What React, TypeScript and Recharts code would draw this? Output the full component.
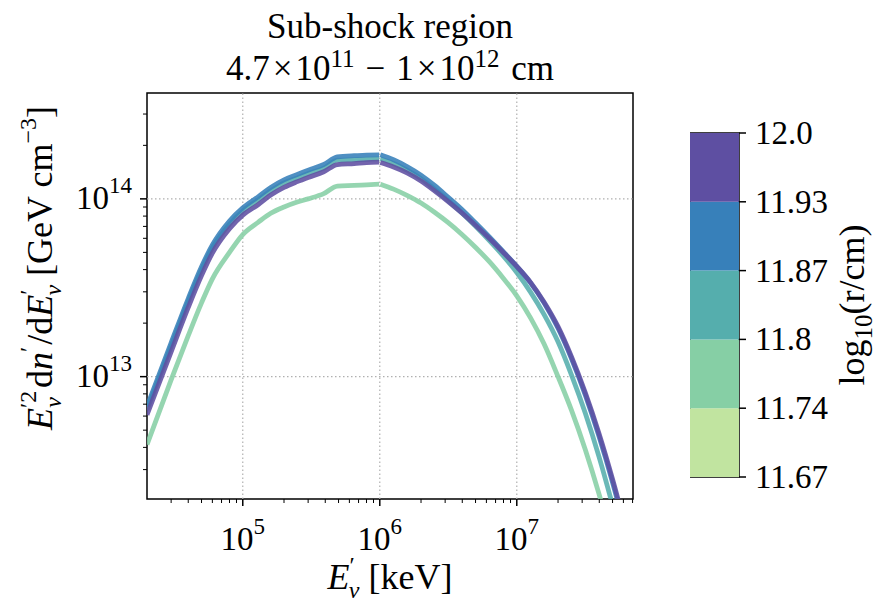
import React from 'react';
import {
  LineChart,
  Line,
  XAxis,
  YAxis,
  ReferenceLine,
  ReferenceArea,
  BarChart,
  Bar,
} from 'recharts';

// E'_nu in keV
const ENERGY = [
  2e4, 3e4, 4e4, 5e4, 6e4, 8e4, 1e5, 1.3e5, 1.6e5, 2e5, 2.5e5, 3e5, 3.9e5, 4.9e5, 6.5e5, 8e5, 9.9e5,
  1e6, 1.01e6, 1.26e6, 1.58e6, 2e6, 2.51e6, 3.16e6, 3.98e6, 5.01e6, 6.31e6, 7.94e6, 1e7,
  1.26e7, 1.58e7, 2e7, 2.51e7, 3.16e7, 3.98e7, 5.01e7, 6.31e7, 7.08e7,
];

// E'^2 dn'/dE' per radius bin (null = break at 1e6 keV)
const R_11_77 = [
  4.15e12, 9.6e12, 1.7e13, 2.6e13, 3.55e13, 5.0e13, 6.3e13, 7.4e13, 8.3e13, 9.0e13, 9.6e13, 1.0e14, 1.07e14, 1.18e14, 1.19e14, 1.2e14, 1.21e14,
  null, 1.21e14, 1.135e14, 1.047e14, 9.48e13, 8.41e13, 7.35e13, 6.31e13, 5.33e13, 4.43e13, 3.59e13, 2.85e13,
  2.14e13, 1.53e13, 1.0e13, 6.46e12, 3.89e12, 2.19e12, 1.15e12, 5.6e11, 3.9e11,
];
const R_11_84 = [
  6.5e12, 1.48e13, 2.64e13, 3.98e13, 5.3e13, 7.2e13, 8.55e13, 9.9e13, 1.11e14, 1.23e14, 1.31e14, 1.39e14, 1.49e14, 1.65e14, 1.66e14, 1.67e14, 1.68e14,
  null, 1.68e14, 1.58e14, 1.45e14, 1.3e14, 1.135e14, 9.77e13, 8.32e13, 7.0e13, 5.82e13, 4.79e13, 3.85e13,
  2.99e13, 2.24e13, 1.57e13, 1.02e13, 6.24e12, 3.55e12, 1.88e12, 9.5e11, 6.8e11,
];
const R_11_90 = [
  6.8e12, 1.55e13, 2.75e13, 4.15e13, 5.5e13, 7.5e13, 8.9e13, 1.03e14, 1.16e14, 1.28e14, 1.37e14, 1.45e14, 1.56e14, 1.72e14, 1.75e14, 1.76e14, 1.77e14,
  null, 1.77e14, 1.66e14, 1.52e14, 1.36e14, 1.19e14, 1.02e14, 8.71e13, 7.31e13, 6.1e13, 5.06e13, 4.17e13,
  3.37e13, 2.6e13, 1.87e13, 1.26e13, 7.9e12, 4.62e12, 2.53e12, 1.29e12, 9.1e11,
];
const R_11_97 = [
  6.1e12, 1.38e13, 2.45e13, 3.7e13, 4.95e13, 6.8e13, 8.1e13, 9.3e13, 1.05e14, 1.16e14, 1.25e14, 1.32e14, 1.42e14, 1.56e14, 1.58e14, 1.6e14, 1.61e14,
  null, 1.6e14, 1.51e14, 1.4e14, 1.26e14, 1.11e14, 9.66e13, 8.32e13, 7.08e13, 5.98e13, 5.01e13, 4.17e13,
  3.39e13, 2.63e13, 1.91e13, 1.29e13, 8.13e12, 4.79e12, 2.63e12, 1.35e12, 9.5e11,
];

const X_MAJOR = [1e5, 1e6, 1e7];
const X_TICKS = [
  3e4, 4e4, 5e4, 6e4, 7e4, 8e4, 9e4, 1e5, 2e5, 3e5, 4e5, 5e5, 6e5, 7e5, 8e5, 9e5, 1e6,
  2e6, 3e6, 4e6, 5e6, 6e6, 7e6, 8e6, 9e6, 1e7, 2e7, 3e7, 4e7, 5e7, 6e7, 7e7,
];
const Y_MAJOR = [1e13, 1e14];
const Y_TICKS = [
  3e12, 4e12, 5e12, 6e12, 7e12, 8e12, 9e12, 1e13, 2e13, 3e13, 4e13, 5e13, 6e13, 7e13, 8e13, 9e13, 1e14, 2e14, 3e14,
];

// colour bar bins, bottom to top
const CB_EDGES = ['11.67', '11.74', '11.8', '11.87', '11.93', '12.0'];
const CB_COLORS = ['#c1e4a0', '#86cfa5', '#55aead', '#3780ba', '#5e4fa2'];

const SERIES = [
  { key: 'r1', values: R_11_77, color: '#86cfa5' },
  { key: 'r2', values: R_11_84, color: '#55aead' },
  { key: 'r3', values: R_11_90, color: '#3780ba' },
  { key: 'r4', values: R_11_97, color: '#5e4fa2' },
];

const FONT = '"Liberation Serif", "Times New Roman", serif';
const W = 884;
const H = 606;
const PLOT = { left: 147, right: 633, top: 93, bottom: 499 };

const isMajor = (v: number) => Math.abs(Math.log10(v) - Math.round(Math.log10(v))) < 1e-6;

function XTick({ x, y, payload }: any) {
  const v = payload.value;
  const major = isMajor(v);
  return (
    <g>
      <line x1={x} x2={x} y1={y} y2={y + (major ? 7 : 4)} stroke="#000" strokeWidth={major ? 1.5 : 1} />
      {major && (
        <text x={x} y={y + 51} textAnchor="middle" fontFamily={FONT} fontSize={33} fill="#000">
          10<tspan dy={-16} fontSize={23}>{Math.round(Math.log10(v))}</tspan>
        </text>
      )}
    </g>
  );
}

function YTick({ x, y, payload }: any) {
  const v = payload.value;
  const major = isMajor(v);
  return (
    <g>
      <line x1={x - (major ? 7 : 4)} x2={x} y1={y} y2={y} stroke="#000" strokeWidth={major ? 1.5 : 1} />
      {major && (
        <text x={x - 15} y={y + 10} textAnchor="end" fontFamily={FONT} fontSize={33} fill="#000">
          10<tspan dy={-16} fontSize={23}>{Math.round(Math.log10(v))}</tspan>
        </text>
      )}
    </g>
  );
}

function CbTick({ x, y, payload }: any) {
  return (
    <g>
      <line x1={x} x2={x + 7} y1={y} y2={y} stroke="#000" strokeWidth={1.5} />
      <text x={x + 16} y={y + 11} fontFamily={FONT} fontSize={33} fill="#000">
        {CB_EDGES[payload.value]}
      </text>
    </g>
  );
}

export default function App() {
  const data = ENERGY.map((e, i) => {
    const row: Record<string, number | null> = { e };
    SERIES.forEach((s) => {
      row[s.key] = s.values[i];
    });
    return row;
  });

  const cbRow: Record<string, number | string> = { name: 'cb' };
  CB_COLORS.forEach((_, i) => {
    cbRow[`b${i}`] = 1;
  });

  return (
    <div style={{ position: 'absolute', left: 0, top: 0, width: W, height: H, background: '#fff' }}>
      <div style={{ position: 'absolute', left: 0, top: 0 }}>
        <LineChart
          width={W}
          height={H}
          data={data}
          margin={{ top: PLOT.top, right: W - PLOT.right, bottom: H - PLOT.bottom - 60, left: PLOT.left - 80 }}
        >
          <XAxis
            dataKey="e"
            type="number"
            scale="log"
            domain={[2e4, 7.05e7]}
            allowDataOverflow
            ticks={X_TICKS}
            interval={0}
            tick={<XTick />}
            tickLine={false}
            axisLine={false}
            tickSize={0}
            tickMargin={0}
            height={60}
          />
          <YAxis
            type="number"
            scale="log"
            domain={[2.05e12, 3.94e14]}
            allowDataOverflow
            ticks={Y_TICKS}
            interval={0}
            tick={<YTick />}
            tickLine={false}
            axisLine={false}
            tickSize={0}
            tickMargin={0}
            width={80}
          />
          {X_MAJOR.map((v) => (
            <ReferenceLine key={`vx${v}`} x={v} stroke="#b0b0b0" strokeWidth={1.2} strokeDasharray="1.5 2.5" />
          ))}
          {Y_MAJOR.map((v) => (
            <ReferenceLine key={`hy${v}`} y={v} stroke="#b0b0b0" strokeWidth={1.2} strokeDasharray="1.5 2.5" />
          ))}
          {SERIES.map((s) => (
            <Line
              key={s.key}
              type="monotone"
              dataKey={s.key}
              stroke={s.color}
              strokeWidth={4.8}
              strokeOpacity={0.88}
              strokeLinejoin="round"
              dot={false}
              activeDot={false}
              isAnimationActive={false}
            />
          ))}
          <ReferenceArea
            x1={2e4}
            x2={7.05e7}
            y1={2.05e12}
            y2={3.94e14}
            fill="none"
            stroke="#000"
            strokeWidth={1.5}
            ifOverflow="visible"
          />
        </LineChart>
      </div>

      <div style={{ position: 'absolute', left: 690, top: 0 }}>
        <BarChart
          width={194}
          height={H}
          data={[cbRow]}
          margin={{ top: 133, right: 0, bottom: 129, left: 0 }}
          barCategoryGap={0}
        >
          <XAxis dataKey="name" hide />
          <YAxis
            orientation="right"
            type="number"
            domain={[0, 5]}
            ticks={[0, 1, 2, 3, 4, 5]}
            interval={0}
            tick={<CbTick />}
            tickLine={false}
            axisLine={false}
            tickSize={0}
            tickMargin={0}
            width={145}
          />
          {CB_COLORS.map((c, i) => (
            <Bar key={i} dataKey={`b${i}`} stackId="cb" fill={c} isAnimationActive={false} />
          ))}
          <ReferenceArea y1={0} y2={5} fill="none" stroke="#000" strokeWidth={1.5} ifOverflow="visible" />
        </BarChart>
      </div>

      <svg width={W} height={H} style={{ position: 'absolute', left: 0, top: 0, pointerEvents: 'none' }}>
        <g fontFamily={FONT} fill="#000">
          <text x={390} y={38} textAnchor="middle" fontSize={35}>Sub-shock region</text>
          <text x={390} y={80} textAnchor="middle" fontSize={35}>
            4.7<tspan dx={3}>×</tspan>
            <tspan dx={3}>10</tspan>
            <tspan dy={-13} fontSize={25}>11</tspan>
            <tspan dy={13} dx={11}>−</tspan>
            <tspan dx={11}>1</tspan>
            <tspan dx={3}>×</tspan>
            <tspan dx={3}>10</tspan>
            <tspan dy={-13} fontSize={25}>12</tspan>
            <tspan dy={13} dx={3}> cm</tspan>
          </text>
          <text x={390} y={589} textAnchor="middle" fontSize={36}>
            <tspan fontStyle="italic">E</tspan>
            <tspan dy={-16} fontSize={24}>′</tspan>
            <tspan dy={25} dx={-6} fontSize={24} fontStyle="italic">ν</tspan>
            <tspan dy={-9}> [keV]</tspan>
          </text>
          <text transform="translate(52,268) rotate(-90)" textAnchor="middle" fontSize={36}>
            <tspan fontStyle="italic">E</tspan>
            <tspan dy={-16} fontSize={24}>′2</tspan>
            <tspan dy={25} dx={-17} fontSize={24} fontStyle="italic">ν</tspan>
            <tspan dy={-9} dx={9}>d</tspan>
            <tspan fontStyle="italic">n</tspan>
            <tspan dy={-16} fontSize={24}>′</tspan>
            <tspan dy={16} dx={2}>/d</tspan>
            <tspan fontStyle="italic">E</tspan>
            <tspan dy={-16} fontSize={24}>′</tspan>
            <tspan dy={25} dx={-6} fontSize={24} fontStyle="italic">ν</tspan>
            <tspan dy={-9}> [GeV cm</tspan>
            <tspan dy={-16} fontSize={24}>−3</tspan>
            <tspan dy={16}>]</tspan>
          </text>
          <text transform="translate(864,305) rotate(-90)" textAnchor="middle" fontSize={36}>
            log<tspan dy={8} fontSize={25}>10</tspan>
            <tspan dy={-8}>(r/cm)</tspan>
          </text>
        </g>
      </svg>
    </div>
  );
}
